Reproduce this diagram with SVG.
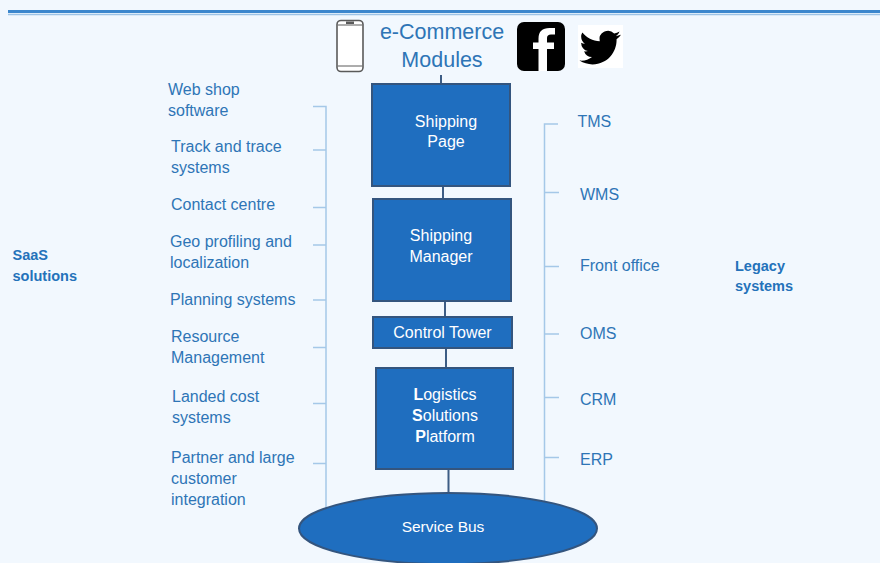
<svg xmlns="http://www.w3.org/2000/svg" width="880" height="563" viewBox="0 0 880 563">
<style>
.lbl{font-family:"Liberation Sans",Arial,sans-serif;font-size:16px;fill:#2E75B6}
.bold{font-family:"Liberation Sans",Arial,sans-serif;font-size:14.5px;font-weight:bold;fill:#2472BA}
.box{fill:#1F6EBF;stroke:#34557E;stroke-width:2}
.wt{font-family:"Liberation Sans",Arial,sans-serif;font-size:16px;fill:#FFFFFF;text-anchor:middle}
.title{font-family:"Liberation Sans",Arial,sans-serif;font-size:21.5px;fill:#2E75B6;text-anchor:middle}
.link{stroke:#3D5D85;stroke-width:2;fill:none}
.brk{stroke:#A5C8E8;stroke-width:1.5;fill:none}
</style>
<rect x="0" y="0" width="880" height="563" fill="#F2F8FE"/>
<line x1="8" y1="11.5" x2="880" y2="11.5" stroke="#3C87CD" stroke-width="3"/>
<line x1="8" y1="14.6" x2="880" y2="14.6" stroke="#9DC3E6" stroke-width="1.5"/>

<g id="icons">
  <g id="phone">
    <rect x="337" y="20.5" width="26" height="51" rx="4" fill="#FFFFFF" stroke="#5A5A5A" stroke-width="1.6"/>
    <line x1="337.8" y1="25" x2="362.2" y2="25" stroke="#5A5A5A" stroke-width="1"/>
    <line x1="337.8" y1="66" x2="362.2" y2="66" stroke="#5A5A5A" stroke-width="1"/>
    <rect x="346" y="21.5" width="8" height="2.5" fill="#5A5A5A"/>
  </g>
  <g id="facebook">
    <rect x="517" y="22" width="48" height="49" rx="7" fill="#000000"/>
    <path d="M547 71 V49 H554 V42.5 H547 V38 Q547 34.5 551 34.5 H555 V28 H549.5 Q538.5 28 538.5 38.5 V42.5 H533 V49 H538.5 V71 Z" fill="#FFFFFF"/>
  </g>
  <g id="twitter">
    <rect x="578" y="25" width="45" height="43" fill="#FFFFFF"/>
    <path transform="translate(579.5,27) scale(1.72)" fill="#000000" d="M23.953 4.57a10 10 0 01-2.825.775 4.958 4.958 0 002.163-2.723c-.951.555-2.005.959-3.127 1.184a4.92 4.92 0 00-8.384 4.482C7.69 8.095 4.067 6.13 1.64 3.162a4.822 4.822 0 00-.666 2.475c0 1.71.87 3.213 2.188 4.096a4.904 4.904 0 01-2.228-.616v.06a4.923 4.923 0 003.946 4.827 4.996 4.996 0 01-2.212.085 4.936 4.936 0 004.604 3.417 9.867 9.867 0 01-6.102 2.105c-.39 0-.779-.023-1.17-.067a13.995 13.995 0 007.557 2.209c9.053 0 13.998-7.496 13.998-13.985 0-.21 0-.42-.015-.63A9.935 9.935 0 0024 4.59z"/>
  </g>
</g>

<g id="connectors">
  <line class="link" x1="441" y1="75" x2="441" y2="84"/>
  <line class="link" x1="443" y1="186" x2="443" y2="199"/>
  <line class="link" x1="445" y1="301" x2="445" y2="317"/>
  <line class="link" x1="446" y1="348" x2="446" y2="368"/>
  <line class="link" x1="448.5" y1="469" x2="448.5" y2="494"/>
  <path class="brk" d="M313 106.5 H326 V515"/>
  <path class="brk" d="M313 150 H326 M313 207.5 H326 M313 245 H326 M313 300 H326 M313 347.5 H326 M313 403.5 H326 M313 463.5 H326"/>
  <path class="brk" d="M558 124 H544.5 V501"/>
  <path class="brk" d="M544.5 192.5 H559 M544.5 266.5 H559 M544.5 334 H559 M544.5 397.5 H559 M544.5 457.5 H559"/>
</g>

<g id="ecommerce-modules">
  <text class="title" x="442" y="39">e-Commerce</text>
  <text class="title" x="442" y="67">Modules</text>
</g>

<g id="shipping-page">
  <rect class="box" x="372" y="84" width="138" height="102"/>
  <text class="wt" x="446" y="127">Shipping</text>
  <text class="wt" x="446" y="147">Page</text>
</g>

<g id="shipping-manager">
  <rect class="box" x="373" y="199" width="138" height="102"/>
  <text class="wt" x="441" y="241">Shipping</text>
  <text class="wt" x="441" y="262">Manager</text>
</g>

<g id="control-tower">
  <rect class="box" x="373" y="317" width="139" height="31"/>
  <text class="wt" x="442.5" y="338">Control Tower</text>
</g>

<g id="lsp">
  <rect class="box" x="376" y="368" width="137" height="101"/>
  <text class="wt" x="445" y="400"><tspan font-weight="bold">L</tspan>ogistics</text>
  <text class="wt" x="445" y="421"><tspan font-weight="bold">S</tspan>olutions</text>
  <text class="wt" x="445" y="442"><tspan font-weight="bold">P</tspan>latform</text>
</g>

<g id="service-bus">
  <ellipse cx="448" cy="528.5" rx="149" ry="35.5" fill="#1F6EBF" stroke="#34557E" stroke-width="2"/>
  <text class="wt" x="443" y="532" style="font-size:15.5px">Service Bus</text>
</g>

<g id="saas-labels">
  <text class="lbl" x="168" y="95">Web shop</text>
  <text class="lbl" x="168" y="116">software</text>
  <text class="lbl" x="171" y="152">Track and trace</text>
  <text class="lbl" x="171" y="173">systems</text>
  <text class="lbl" x="171" y="210">Contact centre</text>
  <text class="lbl" x="170" y="247">Geo profiling and</text>
  <text class="lbl" x="170" y="268">localization</text>
  <text class="lbl" x="170" y="305">Planning systems</text>
  <text class="lbl" x="171" y="342">Resource</text>
  <text class="lbl" x="171" y="363">Management</text>
  <text class="lbl" x="172" y="402">Landed cost</text>
  <text class="lbl" x="172" y="423">systems</text>
  <text class="lbl" x="171" y="462.5">Partner and large</text>
  <text class="lbl" x="171" y="483.5">customer</text>
  <text class="lbl" x="171" y="504.5">integration</text>
</g>

<g id="saas-solutions">
  <text class="bold" x="12.5" y="260">SaaS</text>
  <text class="bold" x="12.5" y="281">solutions</text>
</g>

<g id="legacy-labels">
  <text class="lbl" x="577.5" y="127">TMS</text>
  <text class="lbl" x="580" y="199.5">WMS</text>
  <text class="lbl" x="580" y="270.5">Front office</text>
  <text class="lbl" x="580" y="339">OMS</text>
  <text class="lbl" x="580" y="405">CRM</text>
  <text class="lbl" x="580" y="464.5">ERP</text>
</g>

<g id="legacy-systems">
  <text class="bold" x="735" y="270.5">Legacy</text>
  <text class="bold" x="735" y="291">systems</text>
</g>
</svg>
